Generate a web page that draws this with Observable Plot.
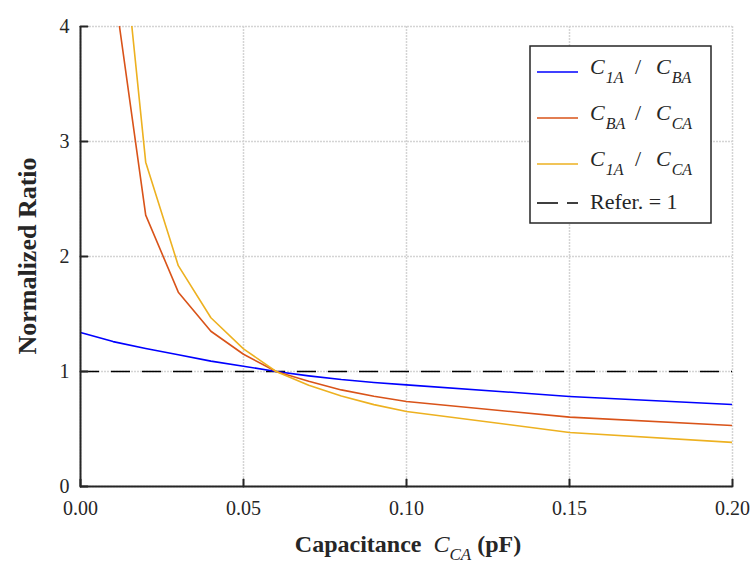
<!DOCTYPE html>
<html><head><meta charset="utf-8">
<script src="https://cdn.jsdelivr.net/npm/d3@7"></script>
<script src="https://cdn.jsdelivr.net/npm/@observablehq/plot@0.6"></script>
<style>
body{margin:0;background:#fff}
#chart{position:relative;width:752px;height:566px}
</style>
</head><body><div id="chart"></div>
<script>
// Capacitance C_CA (pF)
const capacitance = [0, 0.01, 0.02, 0.03, 0.04, 0.05, 0.06, 0.07, 0.08, 0.09, 0.10, 0.15, 0.20];
// C1A / CBA
const ratio1A_BA = [1.34, 1.26, 1.20, 1.145, 1.09, 1.046, 1.00, 0.962, 0.93, 0.905, 0.884, 0.783, 0.713];
// CBA / CCA
const ratioBA_CA = [null, 4.40, 2.36, 1.69, 1.35, 1.15, 1.00, 0.915, 0.84, 0.785, 0.739, 0.603, 0.530];
// C1A / CCA
const ratio1A_CA = [null, 5.60, 2.82, 1.92, 1.467, 1.197, 1.00, 0.88, 0.787, 0.712, 0.652, 0.47, 0.383];
const referenceValue = 1;
const xTicks = [0, 0.05, 0.10, 0.15, 0.20];
const yTicks = [0, 1, 2, 3, 4];

const seriesNames = ["C1A/CBA", "CBA/CCA", "C1A/CCA"];
const seriesColors = ["#0000ff", "#d95319", "#edb120"];
const seriesValues = [ratio1A_BA, ratioBA_CA, ratio1A_CA];

const rows = [];
seriesNames.forEach((name, s) => {
  capacitance.forEach((c, i) => rows.push({series: name, x: c, y: seriesValues[s][i]}));
});

const FONT = "'Liberation Serif', 'Times New Roman', serif";
const axisColor = "#262626";
const tickShape = {draw(context, l) { context.moveTo(0, 0); context.lineTo(0, -l); }};

const chart = Plot.plot({
  width: 752,
  height: 566,
  marginLeft: 80,
  marginRight: 20,
  marginTop: 26,
  marginBottom: 80,
  style: {fontFamily: FONT, fontSize: "20px", color: axisColor, background: "#fff", overflow: "visible"},
  x: {domain: [0, 0.2], ticks: xTicks, tickFormat: d3.format(".2f")},
  y: {domain: [0, 4], ticks: yTicks, tickFormat: d3.format("d")},
  color: {domain: seriesNames, range: seriesColors},
  marks: [
    Plot.gridX(xTicks, {stroke: "#d4d4d4", strokeOpacity: 1, strokeWidth: 1.5, strokeDasharray: "2,1"}),
    Plot.gridY(yTicks, {stroke: "#d4d4d4", strokeOpacity: 1, strokeWidth: 1.5, strokeDasharray: "2,1"}),
    Plot.ruleY([referenceValue], {stroke: "#000", strokeWidth: 1.5, strokeDasharray: "19,12"}),
    Plot.line(rows, {x: "x", y: "y", z: "series", stroke: "series", strokeWidth: 1.6, clip: true, curve: "linear"}),
    Plot.ruleX([0], {stroke: axisColor, strokeWidth: 2}),
    Plot.ruleY([0], {stroke: axisColor, strokeWidth: 2}),
    Plot.vector(yTicks, {x: 0, y: d => d, length: 7, rotate: 90, anchor: "start", shape: tickShape, stroke: axisColor, strokeWidth: 2}),
    Plot.vector(xTicks, {x: d => d, y: 0, length: 7, rotate: 0, anchor: "start", shape: tickShape, stroke: axisColor, strokeWidth: 2}),
    Plot.axisX(xTicks, {tickSize: 0, tickPadding: 14, label: null, tickFormat: d3.format(".2f"), fontSize: 20}),
    Plot.axisY(yTicks, {tickSize: 0, tickPadding: 11, label: null, tickFormat: d3.format("d"), fontSize: 20})
  ]
});
document.getElementById("chart").appendChild(chart);

// Axis titles and legend with sub-scripted labels
const svg = d3.select(chart);
const xs = chart.scale("x"), ys = chart.scale("y");
const x0 = xs.apply(0), x1 = xs.apply(0.2), y0 = ys.apply(0), y1 = ys.apply(4);

// x-axis title
const xt = svg.append("text")
  .attr("x", (x0 + x1) / 2 + 2).attr("y", 552)
  .attr("text-anchor", "middle")
  .attr("font-family", FONT).attr("font-size", 24).attr("font-weight", "bold").attr("fill", axisColor);
xt.append("tspan").text("Capacitance  ");
xt.append("tspan").attr("font-style", "italic").attr("font-weight", "normal").text("C");
xt.append("tspan").attr("font-style", "italic").attr("font-weight", "normal").attr("font-size", 17).attr("dy", 8).text("CA");
xt.append("tspan").attr("dy", -8).text(" (pF)");

// y-axis title
svg.append("text")
  .attr("transform", `translate(36,${(y0 + y1) / 2}) rotate(-90)`)
  .attr("text-anchor", "middle")
  .attr("font-family", FONT).attr("font-size", 26).attr("font-weight", "bold").attr("fill", axisColor)
  .text("Normalized Ratio");

// legend
const legendLabels = [["1A", "BA"], ["BA", "CA"], ["1A", "CA"]];
const lg = svg.append("g").attr("transform", "translate(530,46)").attr("text-anchor", "start");
lg.append("rect").attr("width", 181).attr("height", 177).attr("fill", "#fff").attr("stroke", axisColor).attr("stroke-width", 1.5);
legendLabels.forEach((subs, i) => {
  const yy = 26 + i * 46;
  lg.append("line").attr("x1", 7).attr("x2", 48).attr("y1", yy).attr("y2", yy)
    .attr("stroke", seriesColors[i]).attr("stroke-width", 1.6);
  const t = lg.append("text").attr("x", 60).attr("y", yy + 2).attr("text-anchor", "start")
    .attr("font-family", FONT).attr("font-size", 22).attr("font-style", "italic").attr("fill", axisColor);
  t.append("tspan").text("C");
  t.append("tspan").attr("font-size", 16).attr("dy", 9).attr("dx", 1).text(subs[0]);
  t.append("tspan").attr("x", 105).attr("dy", -9).attr("font-style", "normal").text("/");
  t.append("tspan").attr("x", 126).text("C");
  t.append("tspan").attr("font-size", 16).attr("dy", 9).attr("dx", 1).text(subs[1]);
});
lg.append("line").attr("x1", 7).attr("x2", 48).attr("y1", 157).attr("y2", 157)
  .attr("stroke", "#000").attr("stroke-width", 1.5).attr("stroke-dasharray", "21,9");
lg.append("text").attr("x", 60).attr("y", 163).attr("text-anchor", "start")
  .attr("font-family", FONT).attr("font-size", 22).attr("fill", axisColor)
  .text("Refer. = 1");
</script>
</body></html>
